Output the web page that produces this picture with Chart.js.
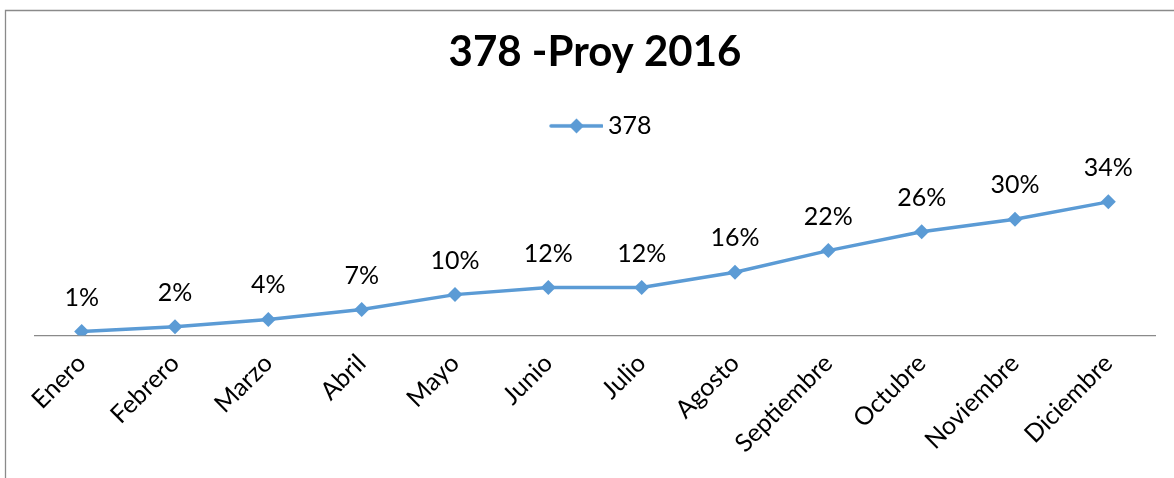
<!DOCTYPE html>
<html>
<head>
<meta charset="utf-8">
<script src="https://cdn.jsdelivr.net/npm/chart.js@4.4.0/dist/chart.umd.min.js"></script>
<style>
  html, body { margin: 0; padding: 0; background: #fff; }
  #wrap { position: relative; width: 1174px; height: 478px; }
</style>
</head>
<body>
<div id="wrap"><canvas id="c" width="1174" height="478"></canvas></div>
<script>
const chartTitle = '378 -Proy 2016';
const seriesName = '378';
const months = ['Enero', 'Febrero', 'Marzo', 'Abril', 'Mayo', 'Junio', 'Julio', 'Agosto', 'Septiembre', 'Octubre', 'Noviembre', 'Diciembre'];
const values = [0.010, 0.022, 0.041, 0.066, 0.104, 0.122, 0.122, 0.161, 0.216, 0.264, 0.296, 0.340];

const lineColor = '#5B9BD5';
const fontFamily = 'Lato, "Open Sans", sans-serif';

// legend marker: line with diamond
function legendMarker() {
  const cv = document.createElement('canvas');
  cv.width = 72; cv.height = 18;
  const g = cv.getContext('2d');
  g.strokeStyle = lineColor;
  g.lineWidth = 3.5;
  g.lineCap = 'round';
  g.beginPath(); g.moveTo(20, 9); g.lineTo(71, 9); g.stroke();
  g.fillStyle = lineColor;
  g.beginPath();
  g.moveTo(45.5, 1.5); g.lineTo(53, 9); g.lineTo(45.5, 16.5); g.lineTo(38, 9);
  g.closePath(); g.fill();
  return cv;
}

const frame = {
  id: 'frame',
  beforeDraw(chart) {
    const ctx = chart.ctx;
    ctx.save();
    ctx.fillStyle = '#fff';
    ctx.fillRect(0, 0, chart.width, chart.height);
    ctx.strokeStyle = '#8a8a8a';
    ctx.lineWidth = 1.3;
    ctx.beginPath();
    ctx.moveTo(5.5, chart.height);
    ctx.lineTo(5.5, 10.5);
    ctx.lineTo(chart.width, 10.5);
    ctx.stroke();
    ctx.restore();
  }
};

const dataLabels = {
  id: 'dataLabels',
  afterDatasetsDraw(chart) {
    const ctx = chart.ctx;
    const meta = chart.getDatasetMeta(0);
    ctx.save();
    ctx.font = '25px ' + fontFamily;
    ctx.fillStyle = '#000';
    ctx.textAlign = 'center';
    ctx.textBaseline = 'middle';
    meta.data.forEach((pt, i) => {
      const v = chart.data.datasets[0].data[i];
      ctx.fillText(Math.round(v * 100) + '%', pt.x, pt.y - 34);
    });
    ctx.restore();
  }
};

new Chart(document.getElementById('c'), {
  type: 'line',
  data: {
    labels: months,
    datasets: [{
      label: seriesName,
      data: values,
      borderColor: lineColor,
      backgroundColor: lineColor,
      borderWidth: 3.5,
      pointStyle: 'rectRot',
      pointRadius: 7.5,
      pointHoverRadius: 7.5,
      pointBackgroundColor: lineColor,
      pointBorderColor: lineColor,
      pointBorderWidth: 0,
      tension: 0,
      fill: false
    }]
  },
  options: {
    responsive: false,
    animation: false,
    devicePixelRatio: 1,
    layout: { padding: { left: 35, right: 19, top: 0, bottom: 0 } },
    plugins: {
      title: {
        display: true,
        text: chartTitle,
        color: '#000',
        font: { family: fontFamily, size: 42, weight: 'bold' },
        padding: { top: 27, bottom: 26 }
      },
      legend: {
        display: true,
        position: 'top',
        labels: {
          usePointStyle: true,
          pointStyleWidth: 57,
          color: '#000',
          font: { family: fontFamily, size: 25 },
          padding: 10,
          generateLabels(chart) {
            return [{
              text: seriesName,
              pointStyle: legendMarker(),
              fillStyle: lineColor,
              strokeStyle: lineColor,
              lineWidth: 0,
              hidden: false,
              datasetIndex: 0,
              fontColor: '#000'
            }];
          }
        }
      },
      tooltip: { enabled: false }
    },
    scales: {
      x: {
        offset: true,
        grid: { display: false, drawTicks: false },
        border: { display: true, color: '#8a8a8a', width: 1.3 },
        ticks: {
          color: '#000',
          font: { family: fontFamily, size: 25 },
          minRotation: 45,
          maxRotation: 45,
          padding: 13,
          autoSkip: false
        },
        afterFit(scale) { scale.height = 142.5; }
      },
      y: {
        display: false,
        min: 0,
        max: 0.476
      }
    }
  },
  plugins: [frame, dataLabels]
});
</script>
</body>
</html>
